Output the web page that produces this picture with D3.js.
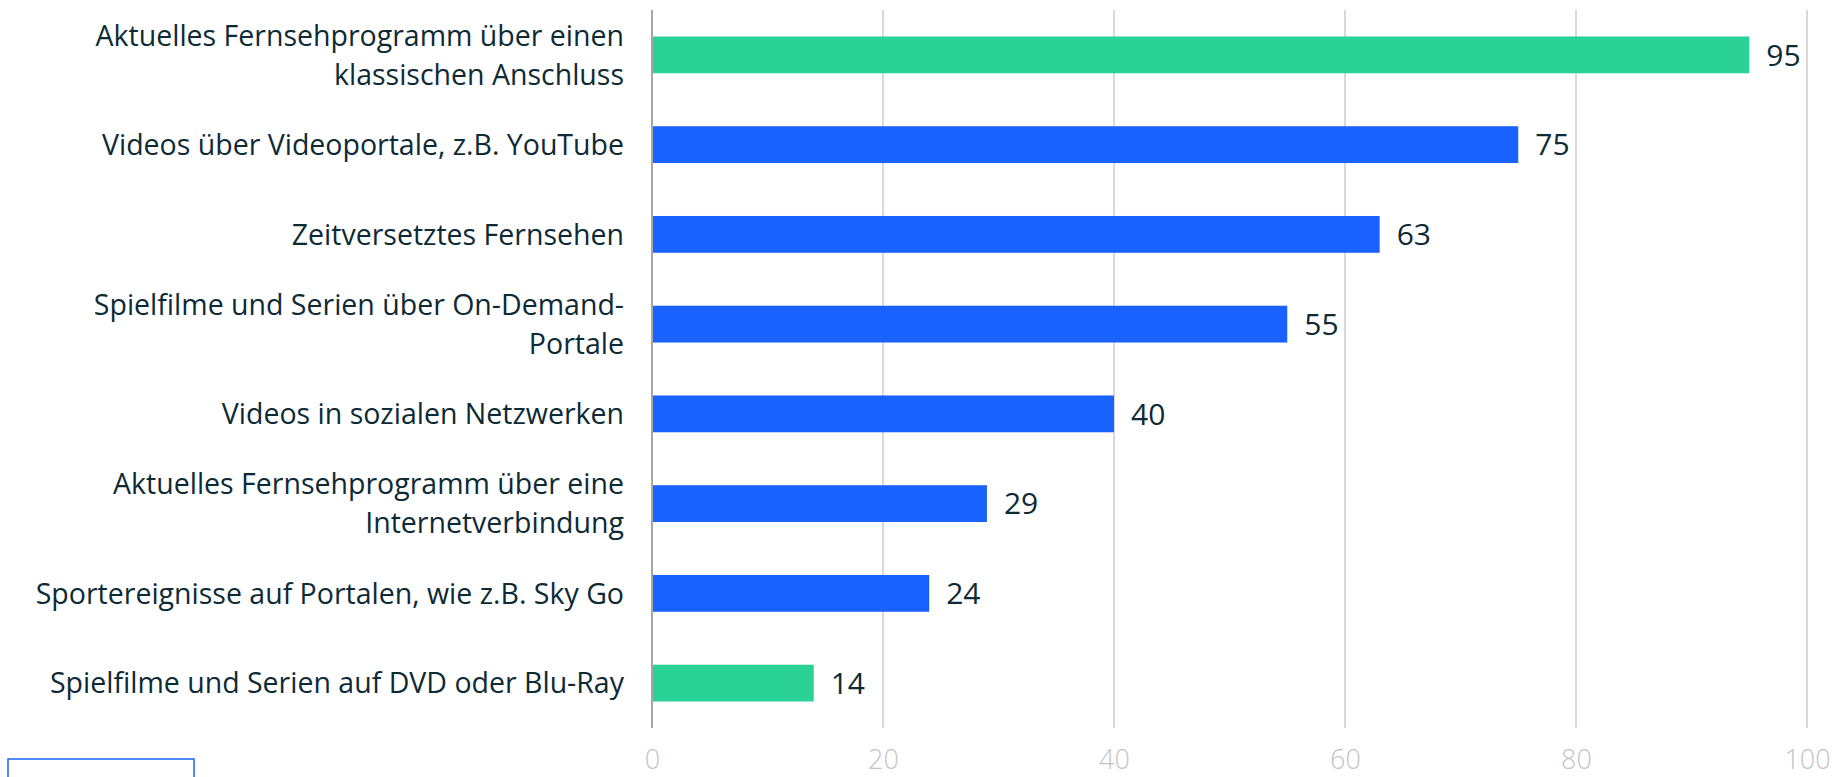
<!DOCTYPE html>
<html>
<head>
<meta charset="utf-8">
<script src="https://cdn.jsdelivr.net/npm/d3@7"></script>
<style>
  body { margin: 0; background: #fff; }
  svg { display: block; font-family: "Open Sans", sans-serif; }
</style>
</head>
<body>
<div id="chart"></div>
<script>
// categories, top to bottom (line breaks as in the original)
var categories = [
    "Aktuelles Fernsehprogramm über einen\nklassischen Anschluss",
    "Videos über Videoportale, z.B. YouTube",
    "Zeitversetztes Fernsehen",
    "Spielfilme und Serien über On-Demand-\nPortale",
    "Videos in sozialen Netzwerken",
    "Aktuelles Fernsehprogramm über eine\nInternetverbindung",
    "Sportereignisse auf Portalen, wie z.B. Sky Go",
    "Spielfilme und Serien auf DVD oder Blu-Ray"
];
var values = [95, 75, 63, 55, 40, 29, 24, 14];
var highlight = [true, false, false, false, false, false, false, true];
var ticks = [0, 20, 40, 60, 80, 100];

var width = 1839, height = 777;
var margin = {top: 10, right: 32, bottom: 49, left: 652};

var svg = d3.select("#chart").append("svg")
    .attr("width", width)
    .attr("height", height);

var x = d3.scaleLinear().domain([0, 100]).range([margin.left, width - margin.right]);
var y = d3.scaleBand().domain(categories)
    .range([margin.top, height - margin.bottom])
    .paddingInner(0.59).paddingOuter(0.295);

// gridlines
svg.append("g")
    .selectAll("line")
    .data(ticks.filter(d => d > 0))
    .join("line")
    .attr("x1", d => x(d)).attr("x2", d => x(d))
    .attr("y1", margin.top).attr("y2", height - margin.bottom)
    .attr("stroke", "#d9d9d9")
    .attr("stroke-width", 2);

// bottom tick labels
var xAxis = svg.append("g")
    .attr("transform", `translate(0,${height - 8})`)
    .call(d3.axisBottom(x).tickValues(ticks).tickSize(0).tickPadding(0));
xAxis.select(".domain").remove();
xAxis.selectAll("text")
    .attr("dy", 0)
    .attr("fill", "#c4c4c4")
    .attr("font-size", 27)
    .attr("font-family", "\"Open Sans\", sans-serif")
    .attr("font-weight", 300);

// bars
svg.append("g")
    .selectAll("rect")
    .data(values)
    .join("rect")
    .attr("x", x(0))
    .attr("y", (d, i) => y(categories[i]))
    .attr("width", d => x(d) - x(0))
    .attr("height", y.bandwidth())
    .attr("fill", (d, i) => highlight[i] ? "#2ad296" : "#1a62ff");

// value labels
svg.append("g")
    .selectAll("text")
    .data(values)
    .join("text")
    .attr("x", d => x(d) + 17)
    .attr("y", (d, i) => y(categories[i]) + y.bandwidth() / 2)
    .attr("dy", "0.36em")
    .attr("fill", "#0d2a35")
    .attr("font-size", 30)
    .text(d => d);

// zero axis line
svg.append("line")
    .attr("x1", x(0)).attr("x2", x(0))
    .attr("y1", margin.top).attr("y2", height - margin.bottom)
    .attr("stroke", "#a6a6a6")
    .attr("stroke-width", 2);

// category labels
var lineH = 39;
svg.append("g")
    .selectAll("text")
    .data(categories)
    .join("text")
    .attr("text-anchor", "end")
    .attr("fill", "#0d2a35")
    .attr("font-size", 28.5)
    .each(function(d) {
        var lines = d.split("\n");
        var cy = y(d) + y.bandwidth() / 2;
        var t = d3.select(this);
        lines.forEach(function(l, i) {
            t.append("tspan")
                .attr("x", margin.left - 28)
                .attr("y", cy + (i - (lines.length - 1) / 2) * lineH)
                .attr("dy", "0.36em")
                .text(l);
        });
    });

// legend box, cut off at the bottom edge
svg.append("rect")
    .attr("x", 8).attr("y", 759)
    .attr("width", 186).attr("height", 40)
    .attr("fill", "none")
    .attr("stroke", "#1a62ff")
    .attr("stroke-width", 1.5);
</script>
</body>
</html>
